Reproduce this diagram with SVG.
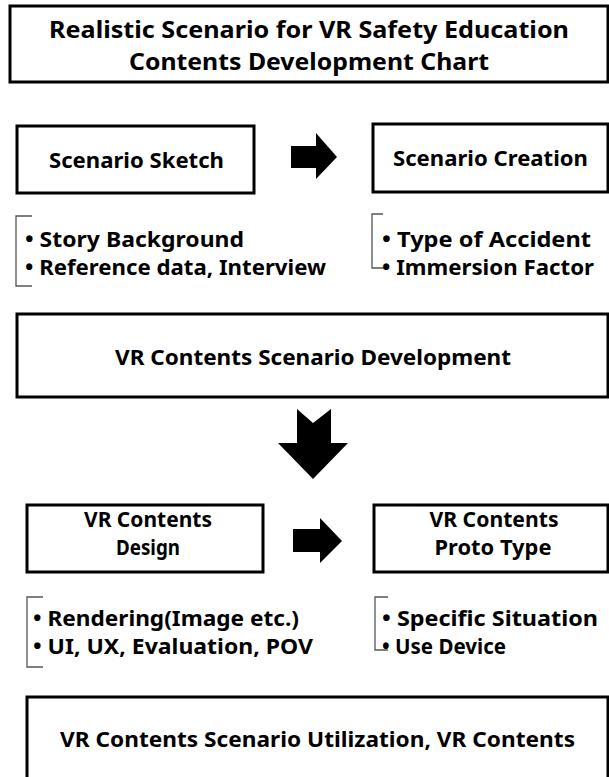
<svg xmlns="http://www.w3.org/2000/svg" width="609" height="777" viewBox="0 0 609 777">
<style>
.box{fill:#fff;stroke:#000;stroke-width:3}
.t{font-family:"Noto Sans","Open Sans","Liberation Sans",sans-serif;font-weight:bold;font-size:22px;fill:#000}
.h{font-size:23px}
.c{text-anchor:middle}
.br{fill:none;stroke:#555;stroke-width:1.3}
.ar{fill:#000}
</style>
<rect width="609" height="777" fill="#fff"/>
<g id="title">
<rect class="box" x="10" y="6" width="598" height="76"/>
<text class="t h" x="49" y="38" textLength="520" lengthAdjust="spacingAndGlyphs">Realistic Scenario for VR Safety Education</text>
<text class="t h" x="129" y="70" textLength="360" lengthAdjust="spacingAndGlyphs">Contents Development Chart</text>
</g>
<g id="sketch">
<rect class="box" x="17" y="126" width="237" height="67"/>
<text class="t" x="49" y="168" textLength="175" lengthAdjust="spacingAndGlyphs">Scenario Sketch</text>
</g>
<g id="creation">
<rect class="box" x="373" y="124" width="235" height="68"/>
<text class="t" x="393" y="166" textLength="195" lengthAdjust="spacingAndGlyphs">Scenario Creation</text>
</g>
<g id="sketch-notes">
<path class="br" d="M32,216 H16 V286 H32"/>
<text class="t" x="25" y="247" textLength="219" lengthAdjust="spacingAndGlyphs">• Story Background</text>
<text class="t" x="25" y="275" textLength="301" lengthAdjust="spacingAndGlyphs">• Reference data, Interview</text>
</g>
<g id="creation-notes">
<path class="br" d="M383,214 H372 V268 H385"/>
<text class="t" x="382" y="247" textLength="209" lengthAdjust="spacingAndGlyphs">• Type of Accident</text>
<text class="t" x="382" y="275" textLength="212" lengthAdjust="spacingAndGlyphs">• Immersion Factor</text>
</g>
<g id="development">
<rect class="box" x="17" y="314" width="591" height="83"/>
<text class="t" x="115" y="365" textLength="396" lengthAdjust="spacingAndGlyphs">VR Contents Scenario Development</text>
</g>
<g id="design">
<rect class="box" x="27" y="505" width="236" height="67"/>
<text class="t c" x="148" y="527" textLength="128" lengthAdjust="spacingAndGlyphs">VR Contents</text>
<text class="t c" x="148" y="555" textLength="64" lengthAdjust="spacingAndGlyphs">Design</text>
</g>
<g id="prototype">
<rect class="box" x="374" y="505" width="234" height="67"/>
<text class="t c" x="494" y="527" textLength="129" lengthAdjust="spacingAndGlyphs">VR Contents</text>
<text class="t c" x="493" y="555" textLength="117" lengthAdjust="spacingAndGlyphs">Proto Type</text>
</g>
<g id="design-notes">
<path class="br" d="M43,597 H27 V667 H43"/>
<text class="t" x="33" y="626" textLength="266" lengthAdjust="spacingAndGlyphs">• Rendering(Image etc.)</text>
<text class="t" x="33" y="654" textLength="280" lengthAdjust="spacingAndGlyphs">• UI, UX, Evaluation, POV</text>
</g>
<g id="prototype-notes">
<path class="br" d="M388,597 H375 V650 H388"/>
<text class="t" x="382" y="626" textLength="216" lengthAdjust="spacingAndGlyphs">• Specific Situation</text>
<text class="t" x="382" y="654" textLength="124" lengthAdjust="spacingAndGlyphs">• Use Device</text>
</g>
<g id="utilization">
<rect class="box" x="27" y="697" width="581" height="100"/>
<text class="t" x="60" y="747" textLength="515" lengthAdjust="spacingAndGlyphs">VR Contents Scenario Utilization, VR Contents</text>
</g>
<g id="connectors">
<polygon class="ar" points="291,146 316,146 316,133 337,157 316,179 316,168 291,168"/>
<polygon class="ar" points="297,409 313,423 331,409 331,443 348,443 313,479 278,443 297,443"/>
<polygon class="ar" points="293,529 320,529 320,518 342,541 320,563 320,552 293,552"/>
</g>
</svg>
